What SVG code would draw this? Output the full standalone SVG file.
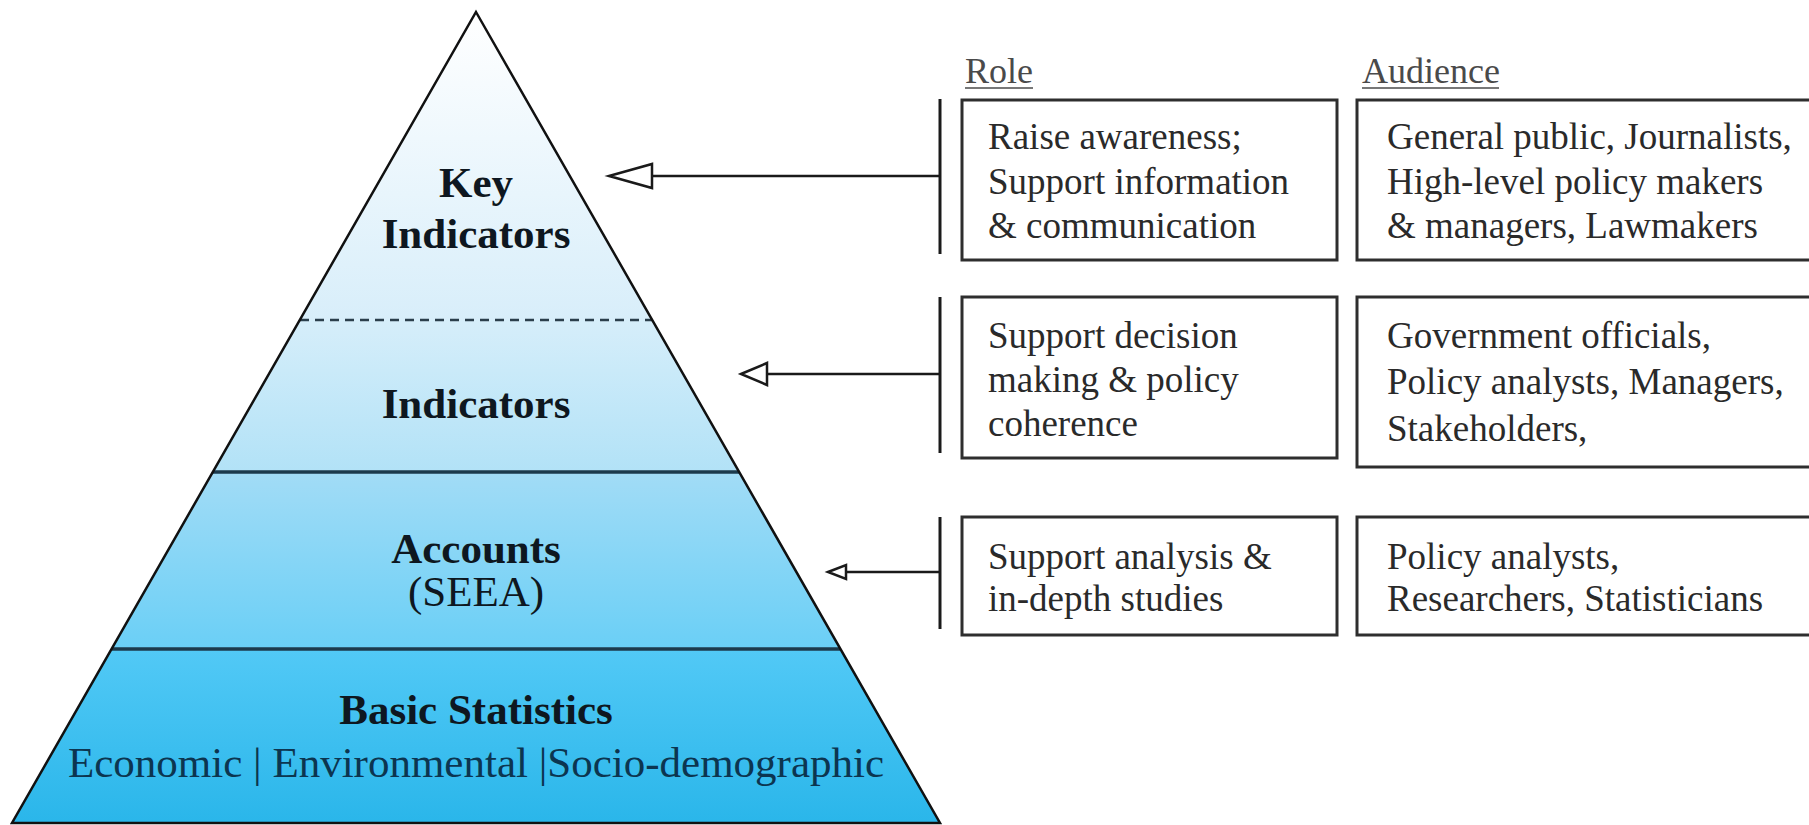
<svg xmlns="http://www.w3.org/2000/svg" width="1809" height="825" viewBox="0 0 1809 825">
  <defs>
    <linearGradient id="gKey" x1="0" y1="0" x2="0" y2="1">
      <stop offset="0" stop-color="#ffffff"/>
      <stop offset="1" stop-color="#d8eefa"/>
    </linearGradient>
    <linearGradient id="gInd" x1="0" y1="0" x2="0" y2="1">
      <stop offset="0" stop-color="#d6eefa"/>
      <stop offset="1" stop-color="#b2e2f7"/>
    </linearGradient>
    <linearGradient id="gAcc" x1="0" y1="0" x2="0" y2="1">
      <stop offset="0" stop-color="#a2dcf6"/>
      <stop offset="1" stop-color="#6acff6"/>
    </linearGradient>
    <linearGradient id="gBas" x1="0" y1="0" x2="0" y2="1">
      <stop offset="0" stop-color="#52c9f6"/>
      <stop offset="1" stop-color="#2ab6ea"/>
    </linearGradient>
    <marker id="openTri" viewBox="0 0 12 12" refX="11" refY="6" markerWidth="12" markerHeight="12" markerUnits="userSpaceOnUse" orient="auto">
      <path d="M0,0 L11,6 L0,12 Z" fill="#fff" stroke="#000"/>
    </marker>
  </defs>
  <style>
    .lbl { font-family: "Liberation Serif", "Times New Roman", serif; font-size: 43px; fill: #0e1720; text-anchor: middle; }
    .b { font-weight: bold; }
    .sub { fill: #0c3550; }
    .box { fill: #ffffff; stroke: #2e2e2e; stroke-width: 3; }
    .bt { font-family: "Liberation Serif", "Times New Roman", serif; font-size: 37px; fill: #2a2a2a; }
    .hd { font-family: "Liberation Serif", "Times New Roman", serif; font-size: 36px; fill: #4a4a4a; }
    .ul { stroke: #777; stroke-width: 2; }
    .conn { stroke: #1a1a1a; stroke-width: 2.5; fill: none; }
    .bar { stroke: #1a1a1a; stroke-width: 3; }
    .head { fill: #ffffff; stroke: #1a1a1a; stroke-width: 2.5; stroke-linejoin: miter; }
    .sep { stroke: #1c3a4c; stroke-width: 3.5; }
  </style>

  <g id="pyramid">
    <g id="layer-key">
      <polygon points="476,12 652,320 300,320" fill="url(#gKey)"/>
      <text class="lbl b" x="476" y="197">Key</text>
      <text class="lbl b" x="476" y="248">Indicators</text>
    </g>
    <g id="layer-indicators">
      <polygon points="300,320 652,320 739,472 213,472" fill="url(#gInd)"/>
      <text class="lbl b" x="476" y="418">Indicators</text>
    </g>
    <g id="layer-accounts">
      <polygon points="213,472 739,472 840,649 112,649" fill="url(#gAcc)"/>
      <text class="lbl b" x="476" y="563">Accounts</text>
      <text class="lbl" x="476" y="606">(SEEA)</text>
    </g>
    <g id="layer-basic">
      <polygon points="112,649 840,649 940,823 12,823" fill="url(#gBas)"/>
      <text class="lbl b" x="476" y="724">Basic Statistics</text>
      <text class="lbl sub" x="476" y="777">Economic | Environmental |Socio-demographic</text>
    </g>
    <line x1="300" y1="320" x2="652" y2="320" stroke="#2b3f4c" stroke-width="2.5" stroke-dasharray="9,6"/>
    <line class="sep" x1="213" y1="472" x2="739" y2="472"/>
    <line class="sep" x1="112" y1="649" x2="840" y2="649"/>
    <polygon points="476,12 940,823 12,823" fill="none" stroke="#111" stroke-width="2.5"/>
  </g>

  <g id="headers">
    <text class="hd" x="965" y="83">Role</text>
    <line class="ul" x1="965" y1="88" x2="1033" y2="88"/>
    <text class="hd" x="1362" y="83">Audience</text>
    <line class="ul" x1="1362" y1="88" x2="1499" y2="88"/>
  </g>

  <g id="connectors">
    <line class="bar" x1="940" y1="99" x2="940" y2="254"/>
    <line class="conn" x1="940" y1="176" x2="652" y2="176"/>
    <polygon class="head" points="609,176 652,164 652,188"/>

    <line class="bar" x1="940" y1="297" x2="940" y2="453"/>
    <line class="conn" x1="940" y1="374" x2="767" y2="374"/>
    <polygon class="head" points="741,374 767,363 767,385"/>

    <line class="bar" x1="940" y1="517" x2="940" y2="629"/>
    <line class="conn" x1="940" y1="572" x2="846" y2="572"/>
    <polygon class="head" points="828,572 846,565 846,579"/>
  </g>

  <g id="role-1">
    <rect class="box" x="962" y="100" width="375" height="160"/>
    <text class="bt" x="988" y="149">Raise awareness;</text>
    <text class="bt" x="988" y="194">Support information</text>
    <text class="bt" x="988" y="238">&amp; communication</text>
  </g>
  <g id="audience-1">
    <rect class="box" x="1357" y="100" width="460" height="160"/>
    <text class="bt" x="1387" y="149">General public, Journalists,</text>
    <text class="bt" x="1387" y="194">High-level policy makers</text>
    <text class="bt" x="1387" y="238">&amp; managers, Lawmakers</text>
  </g>

  <g id="role-2">
    <rect class="box" x="962" y="297" width="375" height="161"/>
    <text class="bt" x="988" y="348">Support decision</text>
    <text class="bt" x="988" y="392">making &amp; policy</text>
    <text class="bt" x="988" y="436">coherence</text>
  </g>
  <g id="audience-2">
    <rect class="box" x="1357" y="297" width="460" height="170"/>
    <text class="bt" x="1387" y="348">Government officials,</text>
    <text class="bt" x="1387" y="394">Policy analysts, Managers,</text>
    <text class="bt" x="1387" y="441">Stakeholders,</text>
  </g>

  <g id="role-3">
    <rect class="box" x="962" y="517" width="375" height="118"/>
    <text class="bt" x="988" y="569">Support analysis &amp;</text>
    <text class="bt" x="988" y="611">in-depth studies</text>
  </g>
  <g id="audience-3">
    <rect class="box" x="1357" y="517" width="460" height="118"/>
    <text class="bt" x="1387" y="569">Policy analysts,</text>
    <text class="bt" x="1387" y="611">Researchers, Statisticians</text>
  </g>
</svg>
